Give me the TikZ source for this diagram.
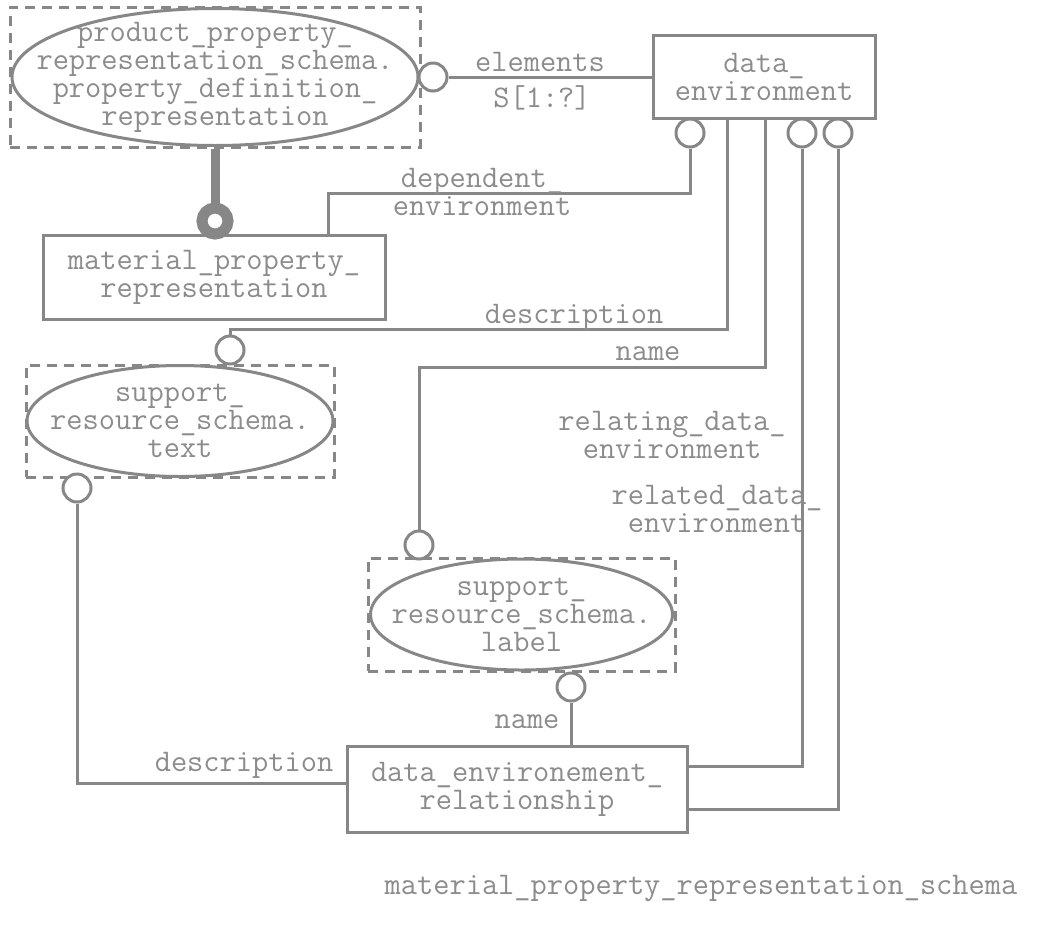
\documentclass[tikz,border=0pt]{standalone}
\usepackage{fontspec}
\definecolor{ink}{RGB}{135,135,135}
\definecolor{txt}{RGB}{140,140,140}
\begin{document}
\begin{tikzpicture}[x=1pt,y=-1pt,
  every node/.style={font=\ttfamily\fontsize{31.5}{28}\selectfont, text=txt, inner sep=0pt, align=center},
  conn/.style={draw=ink, line width=3pt},
  entbox/.style={draw=ink, line width=3pt, fill=white, rectangle},
  typebox/.style={draw=ink, line width=3pt, rectangle, dash pattern=on 10pt off 7pt},
  oval/.style={draw=ink, line width=3pt},
  ring/.style={circle, draw=ink, line width=3pt, fill=white, minimum size=28pt},
  fatring/.style={circle, draw=ink, line width=11pt, fill=white, minimum size=26pt},
  lbl/.style={text=txt}]
\fill[white] (0,0) rectangle (1038,927);
\useasboundingbox (0,0) rectangle (1038,927);

% entities
\node[entbox, minimum width=222pt, minimum height=83pt] (de) at (764,76.5) {data\_\\environment};
\node[entbox, minimum width=342pt, minimum height=84pt] (mpr) at (214,277) {material\_property\_\\representation};
\node[entbox, minimum width=340pt, minimum height=86pt] (der) at (517,789) {data\_environement\_\\relationship};

% referenced types from other schemas
\node[typebox, minimum width=410pt, minimum height=140pt] (ppr) at (215,77) {};
\draw[oval] (ppr.center) ellipse [x radius=203, y radius=68.5];
\node (pprt) at (ppr.center) {product\_property\_\\representation\_schema.\\property\_definition\_\\representation};

\node[typebox, minimum width=308pt, minimum height=112pt] (srt) at (180,421) {};
\draw[oval] (srt.center) ellipse [x radius=153, y radius=55.5];
\node (srtt) at (srt.center) {support\_\\resource\_schema.\\text};

\node[typebox, minimum width=307pt, minimum height=113pt] (srl) at (521.5,614.5) {};
\draw[oval] (srl.center) ellipse [x radius=151, y radius=55.5];
\node (srlt) at (srl.center) {support\_\\resource\_schema.\\label};

% optional-end circles
\node[ring] (c1) at (433,77) {};
\node[ring] (c2) at (690,133) {};
\node[ring] (c3) at (802,133) {};
\node[ring] (c4) at (838,133) {};
\node[ring] (c5) at (230,350) {};
\node[ring] (c6) at (419,545) {};
\node[ring] (c7) at (77,488) {};
\node[ring] (c8) at (571,687) {};

% subtype link
\draw[ink, line width=9pt] (ppr.south) -- (215,210);
\node[fatring] (tc) at (215,221) {};

% bend points
\coordinate (d1) at (328,193);
\coordinate (k1) at (727,329);
\coordinate (k2) at (765,367);
\coordinate (k3) at (802,766);
\coordinate (k4) at (838,809);
\coordinate (k7) at (77,783);

% relationships
\draw[conn] (c1.east) -- (c1.east -| de.west);
\draw[conn] (c2.south) |- (d1) -- (d1 |- mpr.north);
\draw[conn] (k1 |- de.south) -- (k1) -| (c5.north);
\draw[conn] (k2 |- de.south) -- (k2) -| (c6.north);
\draw[conn] (c3.south) |- (der.east |- k3);
\draw[conn] (c4.south) |- (der.east |- k4);
\draw[conn] (c7.south) |- (der.west |- k7);
\draw[conn] (c8.south) -- (c8.south |- der.north);

% attribute labels
\node[lbl] (l1) at (540,62) {elements};
\node[lbl] (l2) at (542,98) {S[1:?]};
\node[lbl] (l3) at (482,191.5) {dependent\_\\environment};
\node[lbl] (l4) at (574,317) {description};
\node[lbl] (l5) at (648,354) {name};
\node[lbl] (l6) at (672,435) {relating\_data\_\\environment};
\node[lbl] (l7) at (717,508.5) {related\_data\_\\environment};
\node[lbl] (l8) at (527,722) {name};
\node[lbl] (l9) at (244,765) {description};

% schema title
\node[lbl] (title) at (701,888) {material\_property\_representation\_schema};
\end{tikzpicture}
\end{document}
